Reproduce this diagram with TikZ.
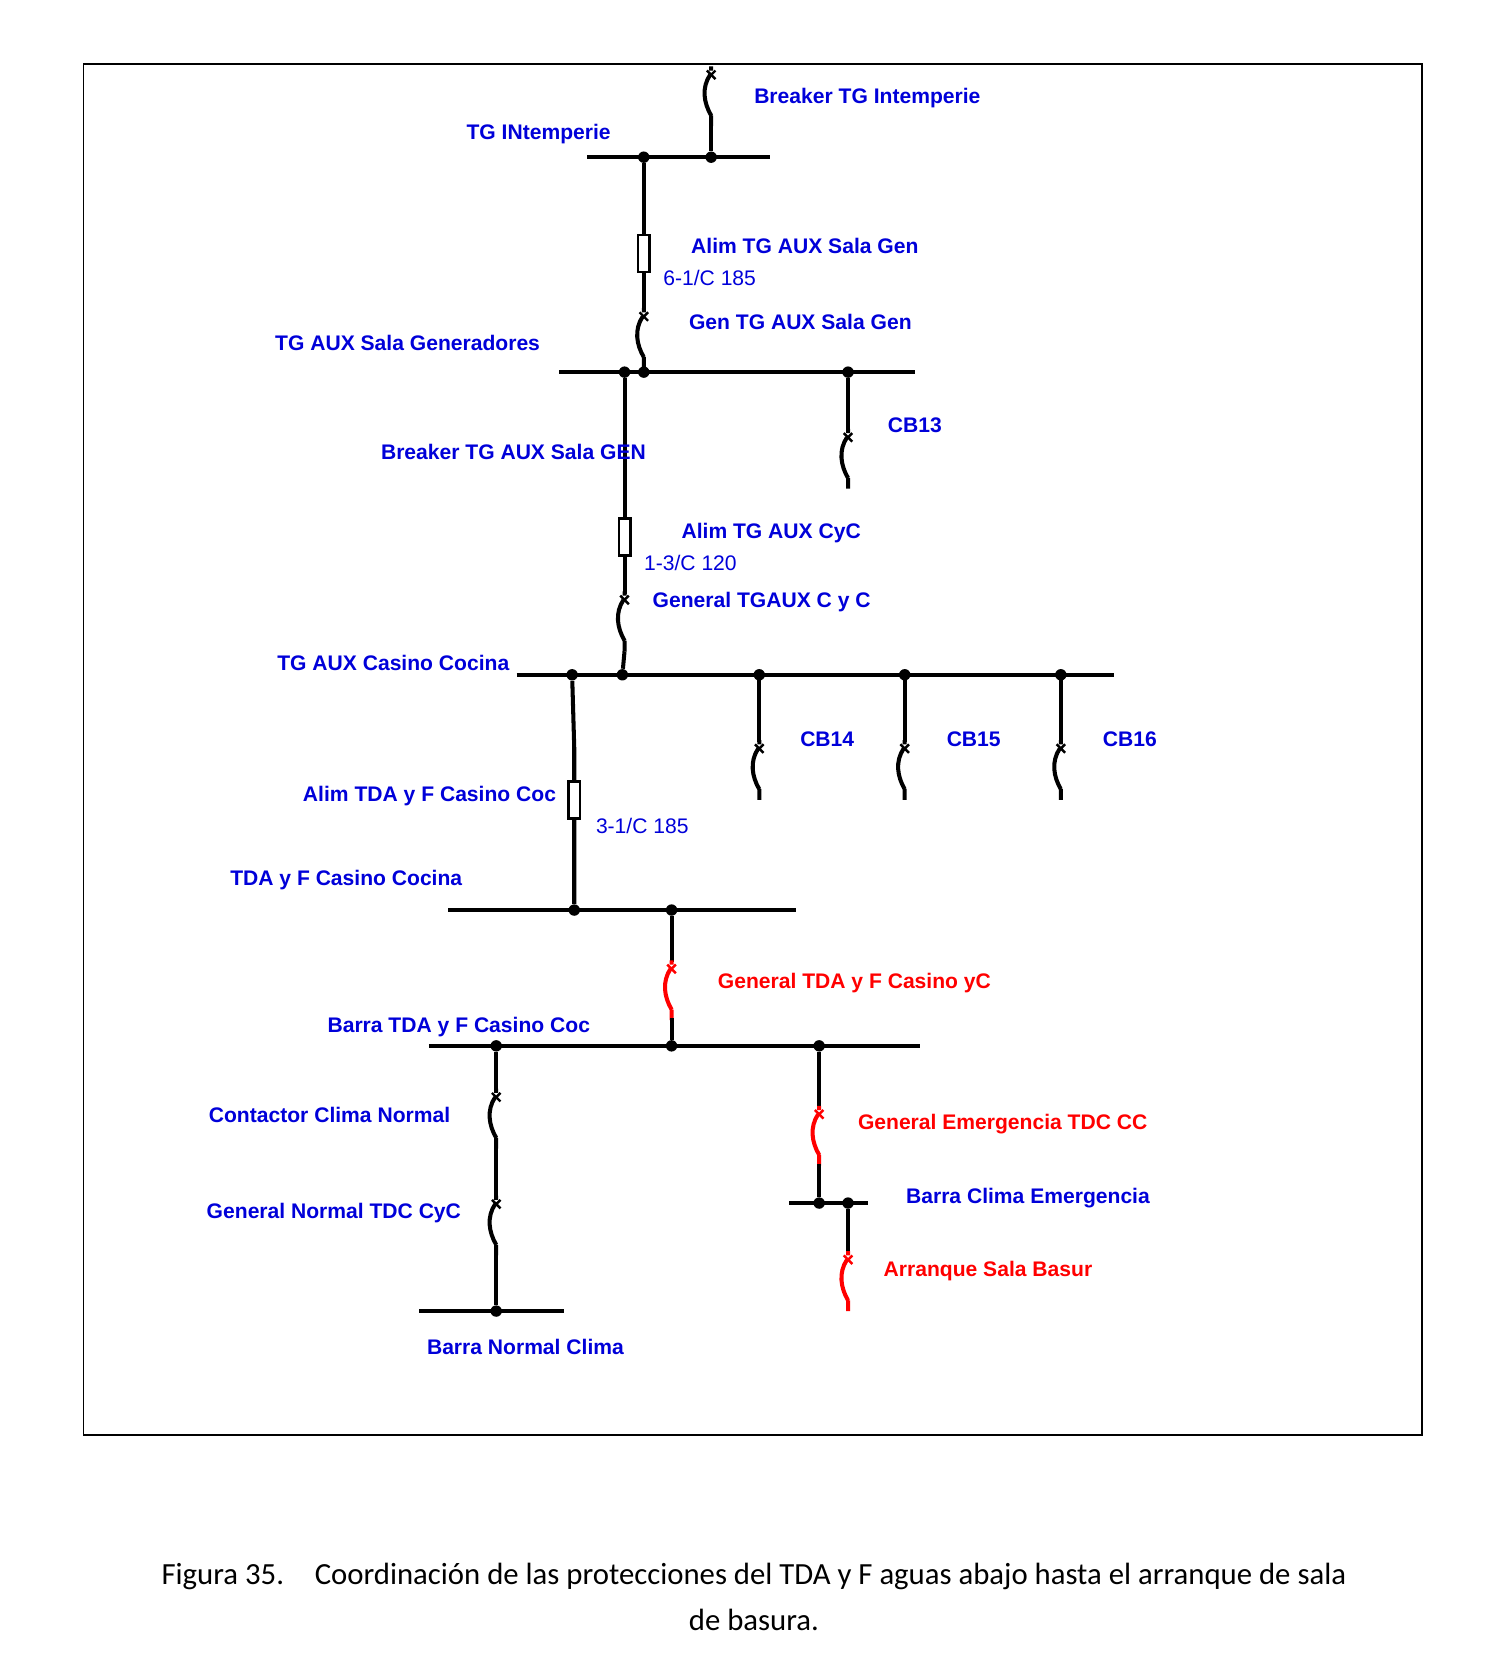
\documentclass[tikz,border=0pt]{standalone}
\usepackage{fontspec}
\setmainfont{Liberation Sans}
\newfontfamily\capfont{Carlito}
\begin{document}
\begin{tikzpicture}[x=0.021386cm,y=-0.021386cm,
  wire/.style={line width=2.3pt,black},
  bus/.style={line width=2.5pt,black},
  lbl/.style={anchor=west,inner sep=0pt,font=\bfseries\fontsize{12}{14}\selectfont,text=blue!85!black},
  rlbl/.style={lbl,text=red},
  nlbl/.style={anchor=west,inner sep=0pt,font=\fontsize{12}{14}\selectfont,text=blue!85!black},
  dot/.style={circle,fill=black,inner sep=0pt,minimum size=6.5pt},
  fuse/.style={draw,line width=1.5pt,fill=white,minimum width=6.5pt,minimum height=21pt,inner sep=0pt}]
\useasboundingbox (0,0) rectangle (1400,1571);
\draw[line width=1pt] (78,60) rectangle (1330,1342);
\newcommand\brkr[3]{%
  \draw[line width=2.3pt,#3] (#1,#2) -- (#1,#2+4)
    (#1-1,#2+8) .. controls (#1-9,#2+20) and (#1-7,#2+34) .. (#1,#2+46)
    (#1,#2+46) -- (#1,#2+56);
  \draw[line width=1.4pt,#3] (#1-4,#2+4) -- (#1+4,#2+12) (#1+4,#2+4) -- (#1-4,#2+12);}
% top
\node[dot] (b1a) at (602,147) {};
\node[dot] (b1b) at (665,147) {};
\coordinate (b1l) at (549,147); \coordinate (b1r) at (720,147);
\draw[bus] (b1l) -- (b1r);
\brkr{665}{62}{black}
\coordinate (t1) at (665,118);
\draw[wire] (t1) -- (b1b);
\node[lbl] at (705,92) {Breaker TG Intemperie};
\node[lbl] at (436,125) {TG INtemperie};
% to bus2
\node[fuse] (f1) at (602,237) {};
\node[dot] (b2a) at (584,348) {};
\node[dot] (b2b) at (602,348) {};
\node[dot] (b2c) at (793,348) {};
\coordinate (b2l) at (523,348); \coordinate (b2r) at (856,348);
\draw[bus] (b2l) -- (b2r);
\draw[wire] (b1a) -- (f1) (f1) -- (602,290);
\brkr{602}{288}{black}
\draw[wire] (602,344) -- (b2b);
\node[lbl] at (646,230) {Alim TG AUX Sala Gen};
\node[nlbl] at (620,260) {6-1/C 185};
\node[lbl] at (644,301) {Gen TG AUX Sala Gen};
\node[lbl] at (257,321) {TG AUX Sala Generadores};
% CB13
\draw[wire] (b2c) -- (793,403);
\brkr{793}{401}{black}
\node[lbl] at (830,398) {CB13};
% to bus3
\node[fuse] (f2) at (584,502) {};
\draw[wire] (b2a) -- (f2) (f2) -- (584,555);
\node[lbl] at (356,423) {Breaker TG AUX Sala GEN};
\brkr{584}{553}{black}
\node[dot] (b3a) at (535,631) {};
\node[dot] (b3b) at (582,631) {};
\node[dot] (b3c) at (710,631) {};
\node[dot] (b3d) at (846,631) {};
\node[dot] (b3e) at (992,631) {};
\coordinate (b3l) at (483,631); \coordinate (b3r) at (1042,631);
\draw[bus] (b3l) -- (b3r);
\draw[wire] (584,609) -- (b3b);
\node[lbl] at (637,498) {Alim TG AUX CyC};
\node[nlbl] at (602,526) {1-3/C 120};
\node[lbl] at (610,563) {General TGAUX C y C};
\node[lbl] at (259,620) {TG AUX Casino Cocina};
% CB14-16
\foreach \xx/\nm/\lx in {710/CB14/748, 846/CB15/885, 992/CB16/1031}{
  \draw[wire] (\xx,631) -- (\xx,694);
  \brkr{\xx}{692}{black}
  \node[lbl] at (\lx,691) {\nm};
}
% to bus4
\node[fuse] (f3) at (537,748) {};
\node[dot] (b4a) at (537,851) {};
\node[dot] (b4b) at (628,851) {};
\coordinate (b4l) at (419,851); \coordinate (b4r) at (744,851);
\draw[bus] (b4l) -- (b4r);
\draw[wire] (b3a) -- (537,700) -- (f3) (f3) -- (b4a);
\node[lbl] at (283,744) {Alim TDA y F Casino Coc};
\node[nlbl] at (557,772) {3-1/C 185};
\node[lbl] at (215,823) {TDA y F Casino Cocina};
% to bus5
\node[dot] (b5a) at (464,978) {};
\node[dot] (b5b) at (628,978) {};
\node[dot] (b5c) at (766,978) {};
\coordinate (b5l) at (401,978); \coordinate (b5r) at (860,978);
\draw[bus] (b5l) -- (b5r);
\draw[wire] (b4b) -- (628,900);
\brkr{628}{898}{red}
\draw[wire] (628,952) -- (b5b);
\node[rlbl] at (671,919) {General TDA y F Casino yC};
\node[lbl] at (306,960) {Barra TDA y F Casino Coc};
% normal branch
\node[dot] (b6a) at (464,1226) {};
\coordinate (b6l) at (392,1226); \coordinate (b6r) at (527,1226);
\draw[bus] (b6l) -- (b6r);
\draw[wire] (b5a) -- (464,1020);
\brkr{464}{1018}{black}
\draw[wire] (464,1072) -- (464,1120);
\brkr{464}{1118}{black}
\draw[wire] (464,1172) -- (b6a);
\node[lbl] at (195,1043) {Contactor Clima Normal};
\node[lbl] at (193,1134) {General Normal TDC CyC};
\node[lbl] at (399,1260) {Barra Normal Clima};
% emergency branch
\node[dot] (b7a) at (766,1125) {};
\node[dot] (b7b) at (793,1125) {};
\coordinate (b7l) at (738,1125); \coordinate (b7r) at (812,1125);
\draw[bus] (b7l) -- (b7r);
\draw[wire] (b5c) -- (766,1036);
\brkr{766}{1034}{red}
\draw[wire] (766,1088) -- (b7a);
\draw[wire] (b7b) -- (793,1172);
\brkr{793}{1170}{red}
\node[rlbl] at (802,1051) {General Emergencia TDC CC};
\node[lbl] at (847,1120) {Barra Clima Emergencia};
\node[rlbl] at (826,1189) {Arranque Sala Basur};
% caption
\node[font=\capfont\fontsize{17.5}{26}\selectfont,align=center] (cap) at (705,1493)
 {Figura 35.\quad Coordinación de las protecciones del TDA y F aguas abajo hasta el arranque de sala\\ de basura.};
\end{tikzpicture}
\end{document}
